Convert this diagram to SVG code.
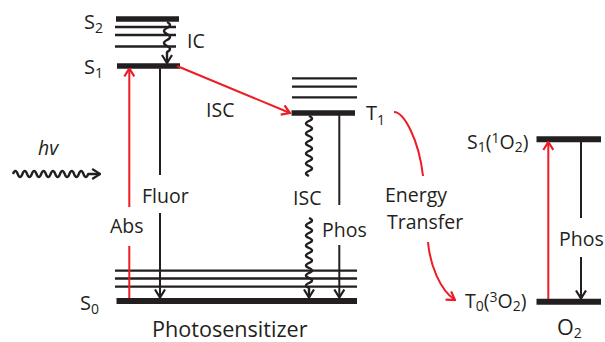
<svg xmlns="http://www.w3.org/2000/svg" width="605" height="342" viewBox="0 0 605 342">
<style>
.t{font-family:"Open Sans","Liberation Sans",sans-serif;font-size:19.5px;fill:#231f20}
.big{font-size:21.6px}
.sub{font-size:14px}
.it{font-style:italic}
.bar{stroke:#231f20;stroke-width:5.5;fill:none}
.lv{stroke:#231f20;stroke-width:2.3;fill:none}
.k{stroke:#231f20;stroke-width:2;fill:none}
.w{stroke:#231f20;stroke-width:2.4;fill:none;stroke-linejoin:round}
.r{stroke:#ed1c24;stroke-width:2;fill:none}
</style>
<defs>
<marker id="ak" viewBox="0 0 10 12" refX="9" refY="6" markerWidth="10" markerHeight="12" markerUnits="userSpaceOnUse" orient="auto">
<path d="M1,1 L9,6 L1,11" fill="none" stroke="#231f20" stroke-width="2.2"/>
</marker>
<marker id="ar" viewBox="0 0 10 12" refX="9" refY="6" markerWidth="10" markerHeight="12" markerUnits="userSpaceOnUse" orient="auto">
<path d="M1,1 L9,6 L1,11" fill="none" stroke="#ed1c24" stroke-width="2.2"/>
</marker>
</defs>
<rect width="605" height="342" fill="#fff"/>

<g id="S2">
<line class="bar" x1="116" y1="19" x2="179" y2="19"/>
<line class="lv" x1="115" y1="27" x2="176" y2="27"/>
<line class="lv" x1="115" y1="35" x2="176" y2="35"/>
<line class="lv" x1="115" y1="46.5" x2="176" y2="46.5"/>
<text class="t" x="84" y="29" style="font-size:20px">S<tspan class="sub" dy="4">2</tspan></text>
</g>

<g id="S1">
<line class="bar" x1="117" y1="66" x2="180" y2="66"/>
<text class="t" x="84" y="74" style="font-size:20px">S<tspan class="sub" dy="4">1</tspan></text>
</g>

<g id="S0">
<line class="lv" x1="115" y1="270.7" x2="357" y2="270.7"/>
<line class="lv" x1="115" y1="278.5" x2="357" y2="278.5"/>
<line class="lv" x1="115" y1="286.7" x2="357" y2="286.7"/>
<line class="bar" x1="116.5" y1="301" x2="357" y2="301" style="stroke-width:6"/>
<text class="t" x="80" y="310" style="font-size:20px">S<tspan class="sub" dy="4">0</tspan></text>
<text class="t big" x="152" y="337">Photosensitizer</text>
</g>

<g id="T1">
<line class="lv" x1="292" y1="78.3" x2="357" y2="78.3"/>
<line class="lv" x1="292" y1="86.7" x2="357" y2="86.7"/>
<line class="lv" x1="292" y1="97.3" x2="357" y2="97.3"/>
<line class="bar" x1="291.5" y1="113" x2="355" y2="113"/>
<text class="t" x="366" y="120" style="font-size:20px">T<tspan class="sub" dy="5">1</tspan></text>
</g>

<g id="S1O2">
<line class="bar" x1="536.5" y1="139.2" x2="601" y2="139.2" style="stroke-width:6"/>
<text class="t" x="467" y="149">S<tspan class="sub" dy="3">1</tspan><tspan dy="-3">(</tspan><tspan class="sub" dy="-6">1</tspan><tspan dy="6">O</tspan><tspan class="sub" dy="3">2</tspan><tspan dy="-3">)</tspan></text>
</g>

<g id="T0O2">
<line class="bar" x1="536.5" y1="301.7" x2="601" y2="301.7" style="stroke-width:6"/>
<text class="t" x="465" y="308">T<tspan class="sub" dy="3">0</tspan><tspan dy="-3">(</tspan><tspan class="sub" dy="-6">3</tspan><tspan dy="6">O</tspan><tspan class="sub" dy="3">2</tspan><tspan dy="-3">)</tspan></text>
<text class="t big" x="557" y="334.5">O<tspan class="sub" dy="3">2</tspan></text>
</g>

<g id="light">
<text class="t it" x="38" y="155">hv</text>
<path class="w" marker-end="url(#ak)" d="M13,174 q2.35,-6 4.7,0 t4.7,0 t4.7,0 t4.7,0 t4.7,0 t4.7,0 t4.7,0 t4.7,0 t4.7,0 t4.7,0 t4.7,0 t4.7,0 t4.7,0 t4.7,0 t4.7,0 t4.7,0 l12,0"/>
</g>

<g id="connectors">
<path class="w" marker-end="url(#ak)" d="M167,22 q6,3 0,6 t0,6 t0,6 t0,6 t0,6 l0,11"/>
<text class="t" x="187" y="48">IC</text>

<line class="r" x1="129.3" y1="298" x2="129.3" y2="246"/>
<line class="r" x1="129.3" y1="207" x2="129.3" y2="68.5" marker-end="url(#ar)"/>
<text class="t" x="110" y="233">Abs</text>

<line class="k" x1="160" y1="68.5" x2="160" y2="175"/>
<line class="k" x1="160" y1="213" x2="160" y2="297.5" marker-end="url(#ak)"/>
<text class="t" x="142" y="203">Fluor</text>

<line class="r" x1="177" y1="66" x2="290" y2="113" marker-end="url(#ar)"/>
<text class="t" x="206" y="117">ISC</text>

<path class="w" d="M309,116 q6,2.5 0,5 t0,5 t0,5 t0,5 t0,5 t0,5 t0,5 t0,5 t0,5 t0,5 t0,5 t0,5"/>
<path class="w" marker-end="url(#ak)" d="M309,218 q6,2.5 0,5 t0,5 t0,5 t0,5 t0,5 t0,5 t0,5 t0,5 t0,5 t0,5 t0,5 t0,5 t0,5 t0,5 l0,9.5"/>
<text class="t" x="293" y="205">ISC</text>

<line class="k" x1="339.3" y1="115" x2="339.3" y2="205"/>
<line class="k" x1="339.3" y1="245" x2="339.3" y2="297.5" marker-end="url(#ak)"/>
<text class="t" x="322" y="237">Phos</text>

<path class="r" d="M394,112 C404,112 419,140 423,176"/>
<path class="r" marker-end="url(#ar)" d="M428,242 C430,265 440,290 455,300"/>
<text class="t" x="385" y="202">Energy</text>
<text class="t" x="387" y="229">Transfer</text>

<line class="r" x1="548.3" y1="299" x2="548.3" y2="142" marker-end="url(#ar)"/>

<line class="k" x1="581" y1="142" x2="581" y2="218"/>
<line class="k" x1="581" y1="257" x2="581" y2="298.5" marker-end="url(#ak)"/>
<text class="t" x="559" y="246">Phos</text>
</g>
</svg>
